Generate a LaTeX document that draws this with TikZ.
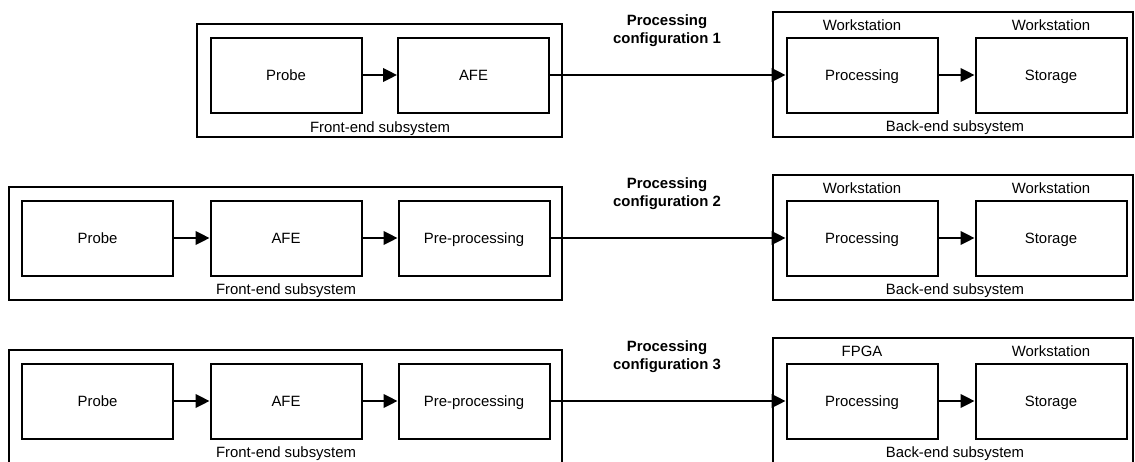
\documentclass[tikz,border=0pt]{standalone}
\usepackage{fontspec}
\setmainfont{Liberation Sans}
\usetikzlibrary{arrows.meta,positioning}

\begin{document}
\begin{tikzpicture}[x=0.5pt,y=-0.5pt]
                    \tikzstyle{every node}+=[inner sep=0pt, font=\fontsize{7.45}{9}\selectfont]
                    \tikzstyle{block}=[draw, line width=1pt, minimum width=75.5pt, minimum height=37.5pt, text height=0.72em, text depth=0.2em]
                    \tikzstyle{frame}=[draw, line width=1pt]
                    \tikzstyle{caption}=[text height=0.72em, text depth=0.2em]
                    \tikzstyle{link}=[line width=1.1pt, -{Triangle[length=7pt,width=6.8pt]}]
                    \tikzstyle{cfg}=[font=\fontsize{7.45}{9}\selectfont\bfseries, align=center]
                    \useasboundingbox (0,0) rectangle (1135,461);
                    % configuration 1
                    \node [frame, minimum width=182.5pt, minimum height=56.5pt] (fe1) at (379.5,80.5) {};
                    \node [caption] (fe1txt) at (380,127) {Front-end subsystem};
                    \node [block] (probe1) at (286,75) {Probe};
                    \node [block] (afe1) at (473.5,75) {AFE};
                    \node [frame, minimum width=180pt, minimum height=62.5pt] (be1) at (953,74.5) {};
                    \node [caption] (be1txt) at (955,126) {Back-end subsystem};
                    \node [block] (proc1) at (862,75) {Processing};
                    \node [block] (stor1) at (1051,75) {Storage};
                    \node [caption] (proc1txt) at (862,25) {Workstation};
                    \node [caption] (stor1txt) at (1051,25) {Workstation};
                    \node [cfg] (cfg1) at (667,31) {Processing\\configuration 1};
                    \draw [link] (probe1) -- (afe1);
                    \draw [link] (afe1) -- (proc1);
                    \draw [link] (proc1) -- (stor1);
                    % configuration 2
                    \node [frame, minimum width=276.5pt, minimum height=56.5pt] (fe2) at (285.5,243.5) {};
                    \node [caption] (fe2txt) at (286,289) {Front-end subsystem};
                    \node [block] (probe2) at (97.5,238) {Probe};
                    \node [block] (afe2) at (286,238) {AFE};
                    \node [block] (pre2) at (474,238) {Pre-processing};
                    \node [frame, minimum width=180pt, minimum height=62.5pt] (be2) at (953,237.5) {};
                    \node [caption] (be2txt) at (955,289) {Back-end subsystem};
                    \node [block] (proc2) at (862,238) {Processing};
                    \node [block] (stor2) at (1051,238) {Storage};
                    \node [caption] (proc2txt) at (862,188) {Workstation};
                    \node [caption] (stor2txt) at (1051,188) {Workstation};
                    \node [cfg] (cfg2) at (667,194) {Processing\\configuration 2};
                    \draw [link] (probe2) -- (afe2);
                    \draw [link] (afe2) -- (pre2);
                    \draw [link] (pre2) -- (proc2);
                    \draw [link] (proc2) -- (stor2);
                    % configuration 3
                    \node [frame, minimum width=276.5pt, minimum height=56.5pt] (fe3) at (285.5,406.5) {};
                    \node [caption] (fe3txt) at (286,452) {Front-end subsystem};
                    \node [block] (probe3) at (97.5,401) {Probe};
                    \node [block] (afe3) at (286,401) {AFE};
                    \node [block] (pre3) at (474,401) {Pre-processing};
                    \node [frame, minimum width=180pt, minimum height=62.5pt] (be3) at (953,400.5) {};
                    \node [caption] (be3txt) at (955,452) {Back-end subsystem};
                    \node [block] (proc3) at (862,401) {Processing};
                    \node [block] (stor3) at (1051,401) {Storage};
                    \node [caption] (proc3txt) at (862,351) {FPGA};
                    \node [caption] (stor3txt) at (1051,351) {Workstation};
                    \node [cfg] (cfg3) at (667,357) {Processing\\configuration 3};
                    \draw [link] (probe3) -- (afe3);
                    \draw [link] (afe3) -- (pre3);
                    \draw [link] (pre3) -- (proc3);
                    \draw [link] (proc3) -- (stor3);
\end{tikzpicture}
\end{document}
